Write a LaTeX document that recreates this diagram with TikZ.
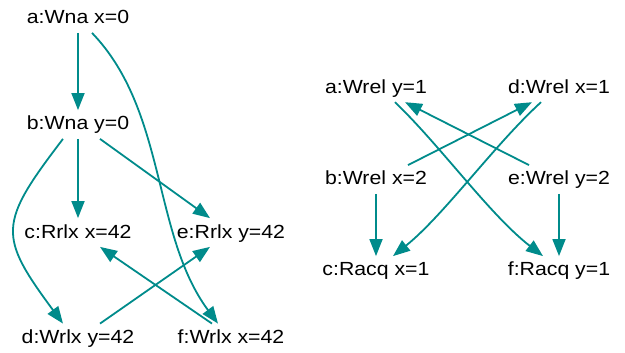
\documentclass[tikz,border=0pt]{standalone}
\usepackage{fontspec}
\setmainfont[FakeStretch=1.12]{Liberation Sans}
\usepackage{tikz}
\usetikzlibrary{arrows.meta}
\definecolor{edg}{HTML}{008B8B}
\tikzset{
  ev/.style={font=\fontsize{19}{19}\selectfont, text height=15pt, text depth=4pt, inner xsep=2pt, inner ysep=4.7pt},
  rel/.style={draw=edg, line width=1.8pt, -{Triangle[length=17pt,width=13pt]}, edg},
}

\begin{document}
\begin{tikzpicture}[x=1pt,y=-1pt]
 \useasboundingbox (0,0) rectangle (625,353);
 % (left) non-atomic and relaxed accesses
 \begin{scope}
  \node[ev] (a) at (78,18.5) {a:Wna x=0};
  \node[ev] (b) at (78,124.5) {b:Wna y=0};
  \node[ev] (c) at (78,232.5) {c:Rrlx x=42};
  \node[ev] (e) at (231,232.5) {e:Rrlx y=42};
  \node[ev] (d) at (78,338) {d:Wrlx y=42};
  \node[ev] (f) at (231,338) {f:Wrlx x=42};
  \draw[rel] (a.south) -- (b.north);
  \draw[rel] ([xshift=14pt]a.south) .. controls +(75,78) and +(-66,-89) .. ([xshift=-13pt]f.north);
  \draw[rel] ([xshift=-15pt]b.south) .. controls +(-65,85) and +(-65,-88) .. ([xshift=-15pt]d.north);
  \draw[rel] (b.south) -- (c.north);
  \draw[rel] ([xshift=22pt]b.south) -- ([xshift=-21pt]e.north);
  \draw[rel] ([xshift=22pt]d.north) -- ([xshift=-21pt]e.south);
  \draw[rel] ([xshift=-19pt]f.north) -- ([xshift=22pt]c.south);
 \end{scope}
 % (right) release and acquire accesses
 \begin{scope}
  \node[ev] (ra) at (376,87.8) {a:Wrel y=1};
  \node[ev] (rd) at (559,87.8) {d:Wrel x=1};
  \node[ev] (rb) at (376,179.5) {b:Wrel x=2};
  \node[ev] (re) at (559,179.5) {e:Wrel y=2};
  \node[ev] (rc) at (376,270.5) {c:Racq x=1};
  \node[ev] (rf) at (559,270.5) {f:Racq y=1};
  \draw[rel] (rb.south) -- (rc.north);
  \draw[rel] (re.south) -- (rf.north);
  \draw[rel] ([xshift=19pt]ra.south) .. controls +(45,43) and +(-53,-41) .. ([xshift=-16pt]rf.north);
  \draw[rel] ([xshift=-18pt]rd.south) .. controls +(-47,43) and +(51,-41) .. ([xshift=17pt]rc.north);
  \draw[rel] ([xshift=32pt]rb.north) -- ([xshift=-27pt]rd.south);
  \draw[rel] ([xshift=-30pt]re.north) -- ([xshift=29pt]ra.south);
 \end{scope}
\end{tikzpicture}
\end{document}
